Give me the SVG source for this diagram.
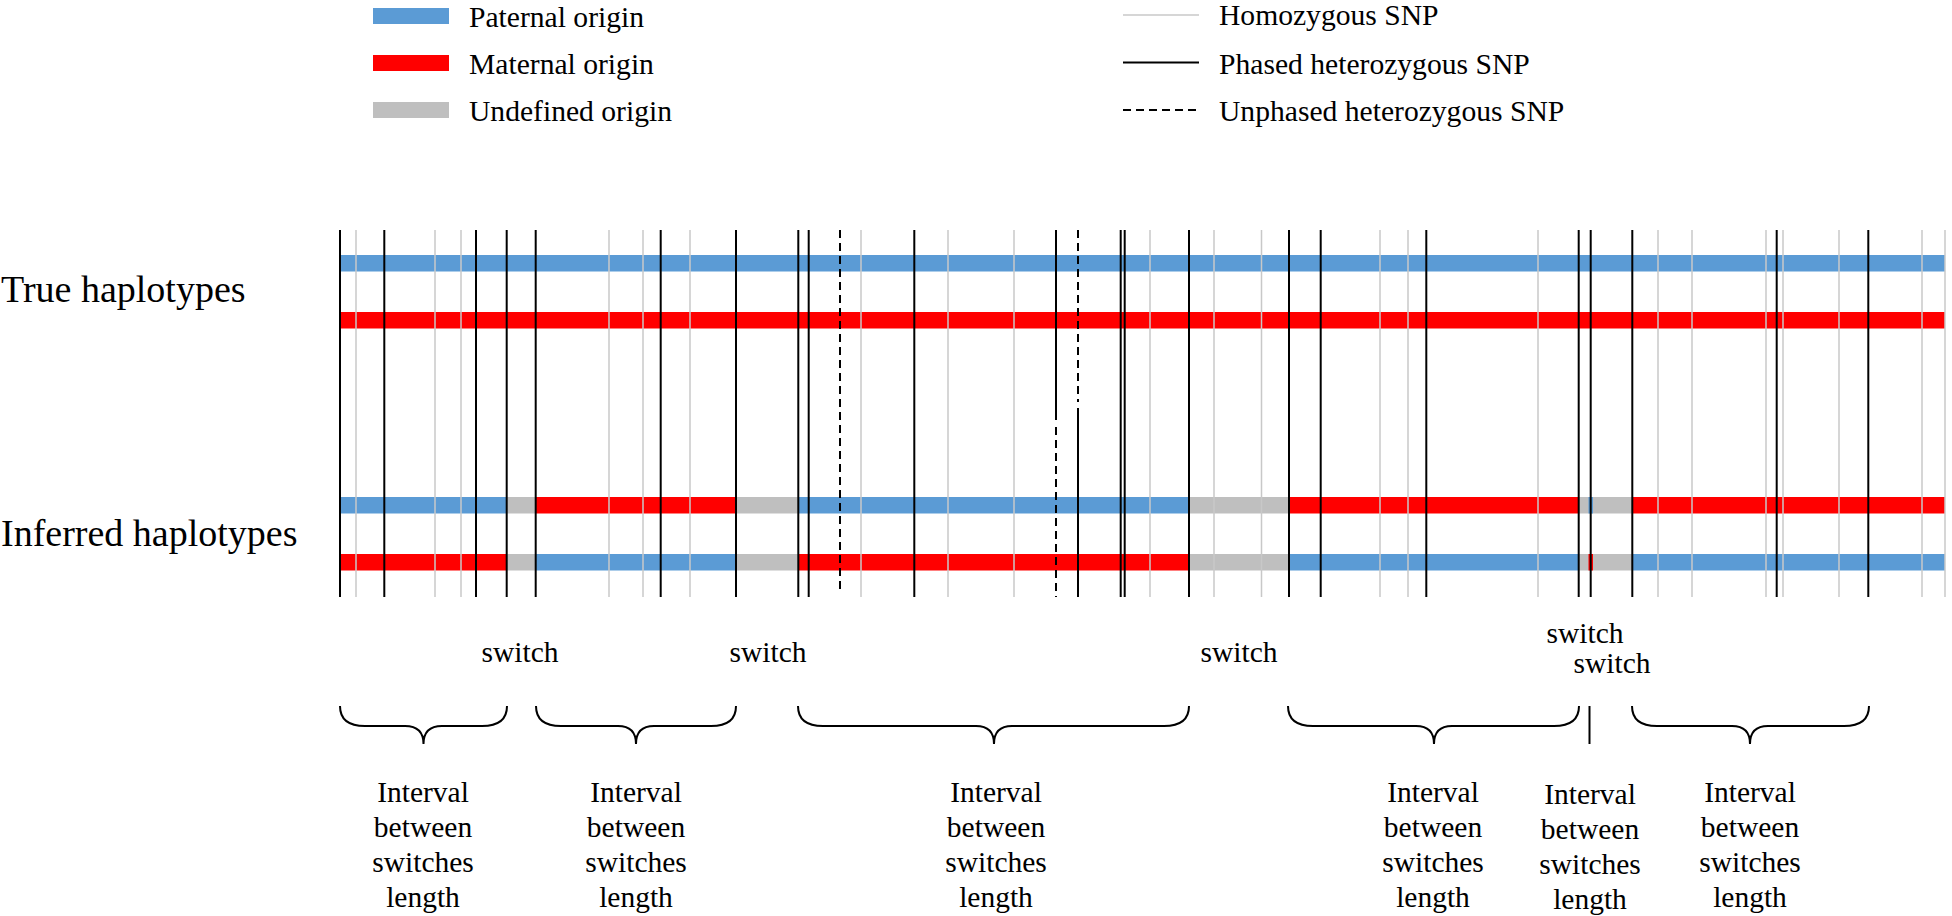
<svg xmlns="http://www.w3.org/2000/svg" width="1952" height="916" viewBox="0 0 1952 916">
<style>
text{font-family:"Liberation Serif","Times New Roman",serif;fill:#000}
.leg{font-size:29.6px}
.lab{font-size:38px}
.sw{font-size:29.5px;text-anchor:middle}
.iv{font-size:29.5px;text-anchor:middle}
.pat{fill:#5B9BD5}
.mat{fill:#FF0000}
.und{fill:#BFBFBF}
.hom{stroke:#C8C8C8;stroke-width:1.5;fill:none}
.het{stroke:#000;stroke-width:2;fill:none}
.unp{stroke:#000;stroke-width:2;fill:none;stroke-dasharray:8 5}
.brace{stroke:#000;stroke-width:2;fill:none}
</style>

<g id="legend">
  <rect class="pat" x="373" y="8" width="76" height="16"/>
  <text class="leg" x="469" y="27">Paternal origin</text>
  <rect class="mat" x="373" y="55" width="76" height="16"/>
  <text class="leg" x="469" y="74">Maternal origin</text>
  <rect class="und" x="373" y="102" width="76" height="16"/>
  <text class="leg" x="469" y="121">Undefined origin</text>
  <line class="hom" x1="1123" y1="15" x2="1199" y2="15"/>
  <text class="leg" x="1219" y="25">Homozygous SNP</text>
  <line class="het" x1="1123" y1="62.5" x2="1199" y2="62.5"/>
  <text class="leg" x="1219" y="74">Phased heterozygous SNP</text>
  <line class="unp" x1="1123" y1="110" x2="1199" y2="110" stroke-dasharray="8.5 5"/>
  <text class="leg" x="1219" y="121">Unphased heterozygous SNP</text>
</g>

<g id="row-labels">
  <text class="lab" x="1" y="302">True haplotypes</text>
  <text class="lab" x="1" y="546">Inferred haplotypes</text>
</g>

<g id="true-haplotypes">
  <rect class="pat" x="340" y="255" width="1605" height="16.5"/>
  <rect class="mat" x="340" y="312" width="1605" height="16.5"/>
</g>

<g id="inferred-haplotypes">
  <g id="inferred-1">
    <rect class="pat" x="340" y="497" width="167" height="16.5"/>
    <rect class="und" x="507" y="497" width="29" height="16.5"/>
    <rect class="mat" x="536" y="497" width="200" height="16.5"/>
    <rect class="und" x="736" y="497" width="62" height="16.5"/>
    <rect class="pat" x="798" y="497" width="391" height="16.5"/>
    <rect class="und" x="1189" y="497" width="100" height="16.5"/>
    <rect class="mat" x="1289" y="497" width="290" height="16.5"/>
    <rect class="und" x="1579" y="497" width="53" height="16.5"/>
    <rect class="pat" x="1588.5" y="497" width="4.5" height="16.5"/>
    <rect class="mat" x="1632" y="497" width="313" height="16.5"/>
  </g>
  <g id="inferred-2">
    <rect class="mat" x="340" y="554" width="167" height="16.5"/>
    <rect class="und" x="507" y="554" width="29" height="16.5"/>
    <rect class="pat" x="536" y="554" width="200" height="16.5"/>
    <rect class="und" x="736" y="554" width="62" height="16.5"/>
    <rect class="mat" x="798" y="554" width="391" height="16.5"/>
    <rect class="und" x="1189" y="554" width="100" height="16.5"/>
    <rect class="pat" x="1289" y="554" width="290" height="16.5"/>
    <rect class="und" x="1579" y="554" width="53" height="16.5"/>
    <rect class="mat" x="1588.5" y="554" width="4.5" height="16.5"/>
    <rect class="pat" x="1632" y="554" width="313" height="16.5"/>
  </g>
</g>

<g id="snp-lines">
  <g id="homozygous">
    <line class="hom" x1="356" y1="230" x2="356" y2="597"/>
    <line class="hom" x1="435" y1="230" x2="435" y2="597"/>
    <line class="hom" x1="461" y1="230" x2="461" y2="597"/>
    <line class="hom" x1="609" y1="230" x2="609" y2="597"/>
    <line class="hom" x1="643" y1="230" x2="643" y2="597"/>
    <line class="hom" x1="690" y1="230" x2="690" y2="597"/>
    <line class="hom" x1="861" y1="230" x2="861" y2="597"/>
    <line class="hom" x1="948" y1="230" x2="948" y2="597"/>
    <line class="hom" x1="1014" y1="230" x2="1014" y2="597"/>
    <line class="hom" x1="1150" y1="230" x2="1150" y2="597"/>
    <line class="hom" x1="1214" y1="230" x2="1214" y2="597"/>
    <line class="hom" x1="1261.5" y1="230" x2="1261.5" y2="597"/>
    <line class="hom" x1="1380" y1="230" x2="1380" y2="597"/>
    <line class="hom" x1="1408" y1="230" x2="1408" y2="597"/>
    <line class="hom" x1="1538" y1="230" x2="1538" y2="597"/>
    <line class="hom" x1="1658" y1="230" x2="1658" y2="597"/>
    <line class="hom" x1="1692" y1="230" x2="1692" y2="597"/>
    <line class="hom" x1="1766" y1="230" x2="1766" y2="597"/>
    <line class="hom" x1="1783" y1="230" x2="1783" y2="597"/>
    <line class="hom" x1="1839" y1="230" x2="1839" y2="597"/>
    <line class="hom" x1="1922" y1="230" x2="1922" y2="597"/>
    <line class="hom" x1="1945" y1="230" x2="1945" y2="597"/>
  </g>
  <g id="phased">
    <line class="het" x1="340" y1="230" x2="340" y2="597"/>
    <line class="het" x1="384.3" y1="230" x2="384.3" y2="597"/>
    <line class="het" x1="476" y1="230" x2="476" y2="597"/>
    <line class="het" x1="506.7" y1="230" x2="506.7" y2="597"/>
    <line class="het" x1="535.7" y1="230" x2="535.7" y2="597"/>
    <line class="het" x1="660.7" y1="230" x2="660.7" y2="597"/>
    <line class="het" x1="736" y1="230" x2="736" y2="597"/>
    <line class="het" x1="798.3" y1="230" x2="798.3" y2="597"/>
    <line class="het" x1="808.7" y1="230" x2="808.7" y2="597"/>
    <line class="het" x1="914.3" y1="230" x2="914.3" y2="597"/>
    <line class="het" x1="1120.7" y1="230" x2="1120.7" y2="597"/>
    <line class="het" x1="1124.7" y1="230" x2="1124.7" y2="597"/>
    <line class="het" x1="1189" y1="230" x2="1189" y2="597"/>
    <line class="het" x1="1289" y1="230" x2="1289" y2="597"/>
    <line class="het" x1="1320.7" y1="230" x2="1320.7" y2="597"/>
    <line class="het" x1="1426.3" y1="230" x2="1426.3" y2="597"/>
    <line class="het" x1="1578.7" y1="230" x2="1578.7" y2="597"/>
    <line class="het" x1="1590.7" y1="230" x2="1590.7" y2="597"/>
    <line class="het" x1="1632.3" y1="230" x2="1632.3" y2="597"/>
    <line class="het" x1="1776.7" y1="230" x2="1776.7" y2="597"/>
    <line class="het" x1="1868.3" y1="230" x2="1868.3" y2="597"/>
    <line class="het" x1="1056" y1="230" x2="1056" y2="420"/>
    <line class="het" x1="1078" y1="408" x2="1078" y2="597"/>
  </g>
  <g id="unphased">
    <line class="unp" x1="840" y1="230" x2="840" y2="592"/>
    <line class="unp" x1="1056" y1="427" x2="1056" y2="597"/>
    <line class="unp" x1="1078" y1="230" x2="1078" y2="402"/>
  </g>
</g>

<g id="switch-labels">
  <text class="sw" x="520" y="662">switch</text>
  <text class="sw" x="768" y="662">switch</text>
  <text class="sw" x="1239" y="662">switch</text>
  <text class="sw" x="1585" y="643">switch</text>
  <text class="sw" x="1612" y="673">switch</text>
</g>

<g id="braces">
  <path class="brace" d="M340,706 Q340,726 365,726 L405,726 Q423.5,726 423.5,744 Q423.5,726 442,726 L482,726 Q507,726 507,706"/>
  <path class="brace" d="M536,706 Q536,726 561,726 L618,726 Q636,726 636,744 Q636,726 654,726 L711,726 Q736,726 736,706"/>
  <path class="brace" d="M798,706 Q798,726 823,726 L976,726 Q994,726 994,744 Q994,726 1012,726 L1164,726 Q1189,726 1189,706"/>
  <path class="brace" d="M1288,706 Q1288,726 1313,726 L1416,726 Q1434,726 1434,744 Q1434,726 1452,726 L1554,726 Q1579,726 1579,706"/>
  <line class="brace" x1="1589.5" y1="706" x2="1589.5" y2="744"/>
  <path class="brace" d="M1632,706 Q1632,726 1657,726 L1732,726 Q1750,726 1750,744 Q1750,726 1768,726 L1844,726 Q1869,726 1869,706"/>
</g>

<g id="interval-labels">
  <text class="iv" x="423" y="802">Interval<tspan x="423" dy="35">between</tspan><tspan x="423" dy="35">switches</tspan><tspan x="423" dy="35">length</tspan></text>
  <text class="iv" x="636" y="802">Interval<tspan x="636" dy="35">between</tspan><tspan x="636" dy="35">switches</tspan><tspan x="636" dy="35">length</tspan></text>
  <text class="iv" x="996" y="802">Interval<tspan x="996" dy="35">between</tspan><tspan x="996" dy="35">switches</tspan><tspan x="996" dy="35">length</tspan></text>
  <text class="iv" x="1433" y="802">Interval<tspan x="1433" dy="35">between</tspan><tspan x="1433" dy="35">switches</tspan><tspan x="1433" dy="35">length</tspan></text>
  <text class="iv" x="1590" y="804">Interval<tspan x="1590" dy="35">between</tspan><tspan x="1590" dy="35">switches</tspan><tspan x="1590" dy="35">length</tspan></text>
  <text class="iv" x="1750" y="802">Interval<tspan x="1750" dy="35">between</tspan><tspan x="1750" dy="35">switches</tspan><tspan x="1750" dy="35">length</tspan></text>
</g>
</svg>
